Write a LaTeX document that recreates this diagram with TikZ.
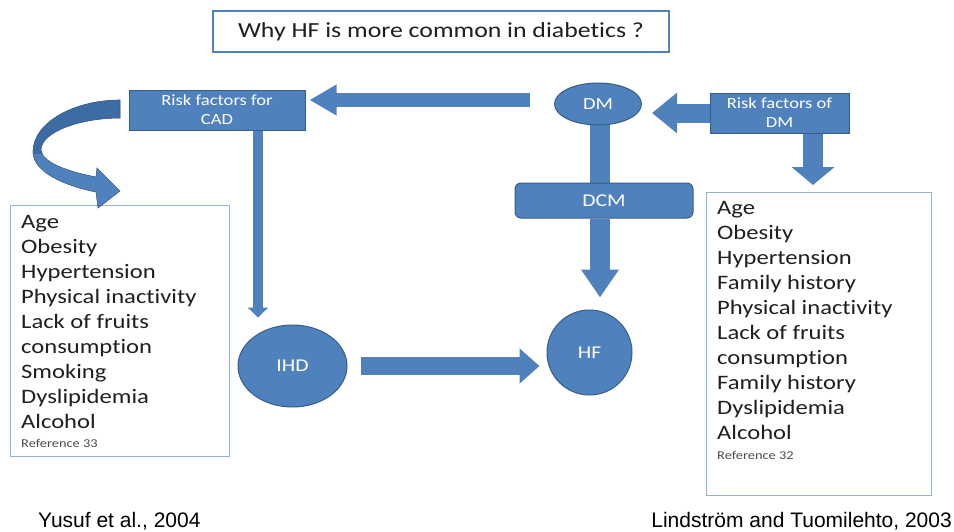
\documentclass[tikz,border=0pt]{standalone}
\usepackage{fontspec}
\setmainfont{Carlito}[FakeStretch=1.2, Ligatures=NoCommon]
\newfontfamily\citefont{Liberation Sans}
\usetikzlibrary{arrows.meta,shapes.geometric,backgrounds}
\definecolor{pblue}{HTML}{4F81BD}
\definecolor{pedge}{HTML}{385D8A}
\definecolor{pdark}{HTML}{3D6BA3}
\definecolor{lbord}{HTML}{95B3D7}
\definecolor{ink}{HTML}{1F1F1F}
\newcommand{\curvedarrowpath}{(120,100) .. controls (75,100) and (33,122) .. (33,152) .. controls (33,172) and (65,186) .. (96,192) -- (98,208) -- (120,191) -- (97,168) -- (96,177) .. controls (70,172) and (42,163) .. (41,150) .. controls (41,132) and (80,118) .. (120,118) -- cycle}
\begin{document}
\begin{tikzpicture}[x=1pt,y=-1pt,
  blueshape/.style={fill=pblue, draw=pedge, line width=1pt, text=white, inner sep=0pt},
  smallbox/.style={blueshape, rectangle, align=center, font=\fontsize{15.5}{19}\selectfont},
  blob/.style={blueshape, ellipse, font=\fontsize{18}{20}\selectfont},
  listbox/.style={draw=lbord, line width=1pt, rectangle, anchor=north west, inner sep=0pt},
  listtext/.style={anchor=north west, inner sep=0pt, align=left, text=ink, font=\fontsize{20.5}{25}\selectfont},
  reftext/.style={anchor=base west, inner sep=0pt, text=ink!80, font=\fontsize{12}{14}\selectfont},
  blk/.style={draw=pblue, line width=#1},
  citetext/.style={inner sep=0pt, text=black, font=\citefont\fontsize{21}{24}\selectfont},
]
\useasboundingbox (0,0) rectangle (954,531);

% title
\node[draw=pblue, line width=2.5pt, minimum width=456pt, minimum height=41pt, inner sep=0pt,
  text=ink, font=\fontsize{21.5}{24}\selectfont] (title) at (441,31.5) {Why HF is more common in diabetics ?};

% blue shapes
\node[smallbox, minimum width=176pt, minimum height=40pt] (rcad) at (217,110) {Risk factors for\\CAD};
\node[smallbox, minimum width=139pt, minimum height=40pt] (rdm) at (779.5,113) {Risk factors of\\DM};
\node[blob, minimum width=87pt, minimum height=42pt, font=\fontsize{17}{19}\selectfont] (DM) at (598,104) {DM};
\node[blueshape, rectangle, rounded corners=6pt, minimum width=178pt, minimum height=35pt,
  font=\fontsize{18}{20}\selectfont] (DCM) at (604,200.5) {DCM};
\node[blueshape, circle, minimum size=85pt, font=\fontsize{18}{20}\selectfont] (HF) at (589.5,352.5) {HF};
\node[blob, minimum width=109pt, minimum height=82pt] (IHD) at (292.5,366) {IHD};

% list boxes
\node[listbox, minimum width=219pt, minimum height=251pt] (lbox) at (10,205) {};
\node[listtext] (llist) at (21,215) {Age\\Obesity\\Hypertension\\Physical inactivity\\Lack of fruits\\consumption\\Smoking\\Dyslipidemia\\Alcohol};
\node[reftext] (lref) at (21,447) {Reference 33};

\node[listbox, minimum width=225pt, minimum height=303pt] (rbox) at (706,192) {};
\node[listtext] (rlist) at (717,201) {Age\\Obesity\\Hypertension\\Family history\\Physical inactivity\\Lack of fruits\\consumption\\Family history\\Dyslipidemia\\Alcohol};
\node[reftext] (rref) at (717,459) {Reference 32};

% citations
\node[citetext, anchor=base west] (cit1) at (38,527) {Yusuf et al., 2004};
\node[citetext, anchor=base east] (cit2) at (952,527) {Lindström and Tuomilehto, 2003};

% helper coordinates
\coordinate (a1s) at (530,100);
\coordinate (c3) at (813,0);
\coordinate (c4) at (600,0);
\coordinate (c7) at (258,0);

\begin{pgfonlayer}{background}
\fill[white] (0,0) rectangle (954,531);
% DM -> risk factors for CAD
\draw[blk=14pt, -{Triangle[length=27pt,width=29pt]}, shorten >=4pt] (a1s) -- (rcad.east |- a1s);
% risk factors of DM -> DM
\draw[blk=19pt, -{Triangle[length=25pt,width=39pt]}, shorten >=10pt] (rdm.west) -- (DM.east |- rdm.west);
% risk factors of DM -> right list
\draw[blk=20pt, -{Triangle[length=18pt,width=42pt]}, shorten >=7pt] (rdm.south -| c3) -- (rbox.north -| c3);
% DM -> DCM
\draw[blk=20pt, shorten <=-3pt, shorten >=-2pt] (DM.south -| c4) -- (DCM.north -| c4);
% DCM -> HF
\draw[blk=20pt, -{Triangle[length=28pt,width=36pt]}, shorten >=12pt] (DCM.south -| c4) -- (HF.north -| c4);
% IHD -> HF
\draw[blk=18pt, -{Triangle[length=20pt,width=34pt]}, shorten <=13pt, shorten >=7pt] (IHD.east) -- (HF.west |- IHD.east);
% risk factors for CAD -> IHD
\draw[blk=10pt, -{Triangle[length=10pt,width=20pt]}, shorten >=7pt] (rcad.south -| c7) -- (IHD.north -| c7);
\end{pgfonlayer}

% curved arrow
\fill[pblue] \curvedarrowpath;
\begin{scope}
\clip (0,0) rectangle (130,153);
\fill[pdark] \curvedarrowpath;
\end{scope}
\draw[pedge, line width=0.6pt] \curvedarrowpath;
\end{tikzpicture}
\end{document}
